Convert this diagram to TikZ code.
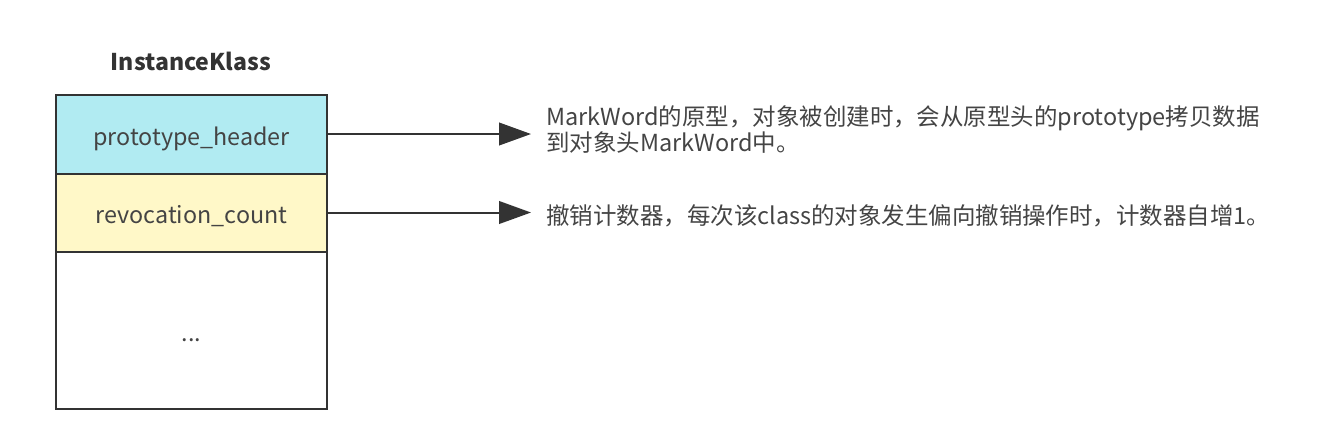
\documentclass[tikz,border=0pt]{standalone}
\usepackage{fontspec}
\setmainfont{Noto Sans CJK SC}
\usetikzlibrary{positioning,arrows.meta}
\definecolor{linegray}{HTML}{333333}
\definecolor{txtgray}{HTML}{444444}
\definecolor{protocyan}{HTML}{B1EBF2}
\definecolor{countyellow}{HTML}{FFF8C8}
\tikzset{
  field/.style={draw=linegray, line width=1.5pt, minimum width=203.25pt,
    inner sep=0pt, outer sep=0pt, text height=16.5pt, text depth=0pt,
    text=txtgray, font=\fontsize{17.5pt}{20pt}\selectfont},
  note/.style={anchor=west, align=left, inner sep=0pt, text=txtgray,
    font=\fontsize{17.6pt}{17.25pt}\selectfont},
  pointer/.style={draw=linegray, line width=1.5pt,
    -{Triangle[length=24pt,width=17pt]}}
}
\begin{document}
\begin{tikzpicture}[x=0.75pt, y=-0.75pt]
  \useasboundingbox (0,0) rectangle (1318,429);
  % Titel
  \node[font=\bfseries\fontsize{17.3pt}{20pt}\selectfont, text=linegray] (title) at (191,61) {InstanceKlass};

  % Felder
  \node[field, fill=protocyan, minimum height=59.25pt] (header) at (191.5,134) {prototype\_header};
  \node[field, fill=countyellow, minimum height=58.5pt, below=0pt of header] (count) {revocation\_count};
  \node[field, fill=white, minimum height=117.75pt, below=0pt of count] (rest) {...};

  % Endpunkte und Texte
  \path (header.east) ++(204,0) coordinate (h-end);
  \path (count.east) ++(204,0) coordinate (c-end);
  \node[note] (h-note) at (546,129.5) {MarkWord的原型，对象被创建时，会从原型头的prototype拷贝数据\\到对象头MarkWord中。};
  \node[note] (c-note) at (546,216) {撤销计数器，每次该class的对象发生偏向撤销操作时，计数器自增1。};

  % Pfeile
  \draw[pointer] (header) -- (h-end);
  \draw[pointer] (count) -- (c-end);
\end{tikzpicture}
\end{document}
